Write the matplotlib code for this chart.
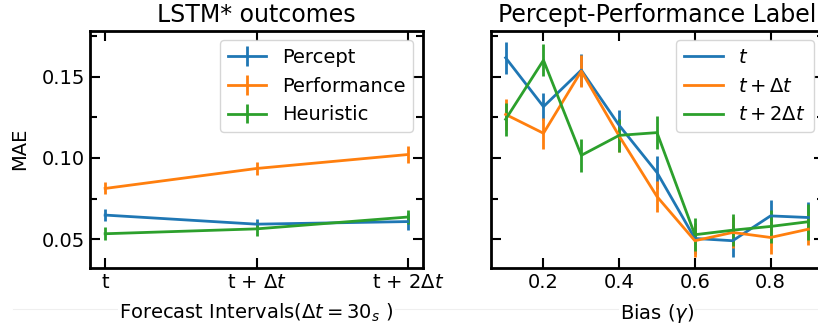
import matplotlib.pyplot as plt
from matplotlib.ticker import MultipleLocator
from matplotlib.lines import Line2D

# Panel izquierdo: resultados LSTM*
intervalos = ['t', r't + $\Delta t$', r't + $2\Delta t$']
percept = [0.0648, 0.0592, 0.0608]
percept_err = [0.0035, 0.0032, 0.0052]
performance = [0.0812, 0.0935, 0.1021]
performance_err = [0.0037, 0.0040, 0.0053]
heuristic = [0.0533, 0.0563, 0.0636]
heuristic_err = [0.0039, 0.0043, 0.0042]

# Panel derecho: etiqueta percept-performance vs sesgo
bias = [0.1, 0.2, 0.3, 0.4, 0.5, 0.6, 0.7, 0.8, 0.9]
mae_t = [0.1617, 0.1316, 0.1541, 0.1201, 0.0910, 0.0504, 0.0490, 0.0643, 0.0633]
mae_t_err = [0.0097, 0.0082, 0.0099, 0.0097, 0.0100, 0.0095, 0.0100, 0.0100, 0.0095]
mae_t1 = [0.1268, 0.1152, 0.1535, 0.1135, 0.0762, 0.0490, 0.0541, 0.0510, 0.0561]
mae_t1_err = [0.0094, 0.0097, 0.0099, 0.0100, 0.0095, 0.0100, 0.0095, 0.0100, 0.0100]
mae_t2 = [0.1238, 0.1602, 0.1016, 0.1139, 0.1156, 0.0527, 0.0555, 0.0578, 0.0607]
mae_t2_err = [0.0100, 0.0100, 0.0100, 0.0100, 0.0100, 0.0100, 0.0100, 0.0100, 0.0110]

azul, naranja, verde = '#1f77b4', '#ff7f0e', '#2ca02c'


def estilo_ejes(ax):
    for s in ax.spines.values():
        s.set_linewidth(2)
    ax.tick_params(which='both', direction='in', top=True, right=True, width=1.5)
    ax.tick_params(which='major', length=7.5, labelsize=14)
    ax.tick_params(which='minor', length=5)


fig = plt.figure(figsize=(8.18, 3.3), dpi=100)
W, H = 818, 330
ax1 = fig.add_axes([90 / W, (H - 268) / H, 333 / W, 237.5 / H])
ax2 = fig.add_axes([490.5 / W, (H - 268) / H, 333 / W, 237.5 / H], sharey=ax1)

fondo = dict(facecolor='white', edgecolor='none', pad=1)

# Izquierda
x = range(len(intervalos))
ax1.errorbar(x, percept, yerr=percept_err, color=azul, lw=2, elinewidth=2, label='Percept')
ax1.errorbar(x, performance, yerr=performance_err, color=naranja, lw=2, elinewidth=2, label='Performance')
ax1.errorbar(x, heuristic, yerr=heuristic_err, color=verde, lw=2, elinewidth=2, label='Heuristic')
ax1.set_xticks(list(x))
ax1.set_xticklabels(intervalos)
ax1.set_xlim(-0.1, 2.1)
ax1.set_ylabel('MAE', fontsize=14, labelpad=9)
ax1.set_xlabel(r'Forecast Intervals($\Delta t = 30_s$ )', fontsize=14, labelpad=7, bbox=fondo)
ax1.set_title('LSTM* outcomes', fontsize=17)
ax1.legend(loc='upper right', fontsize=14)

# Derecha
lineas = []
for vals, errs, col, lab in [(mae_t, mae_t_err, azul, r'$t$'),
                             (mae_t1, mae_t1_err, naranja, r'$t + \Delta t$'),
                             (mae_t2, mae_t2_err, verde, r'$t + 2\Delta t$')]:
    cont = ax2.errorbar(bias, vals, yerr=errs, color=col, lw=2, elinewidth=2)
    lineas.append((cont.lines[0], lab))
ax2.legend([l for l, _ in lineas], [t for _, t in lineas], loc='upper right', fontsize=14)
ax2.set_xticks([0.2, 0.4, 0.6, 0.8])
ax2.set_xlim(0.06, 0.94)
ax2.set_xlabel(r'Bias ($\gamma$)', fontsize=14, labelpad=7, bbox=fondo)
ax2.set_title('Percept-Performance Label', fontsize=17)

ax1.yaxis.set_major_locator(MultipleLocator(0.05))
ax1.yaxis.set_minor_locator(MultipleLocator(0.025))
ax1.set_ylim(0.0322, 0.1785)
estilo_ejes(ax1)
estilo_ejes(ax2)
ax2.tick_params(labelleft=False)

# linea tenue bajo los ejes
fig.add_artist(Line2D([13 / W, 1.0], [(H - 309) / H] * 2, color='#efefef', lw=0.8, zorder=-1))

fig.savefig('out.png', dpi=100)
